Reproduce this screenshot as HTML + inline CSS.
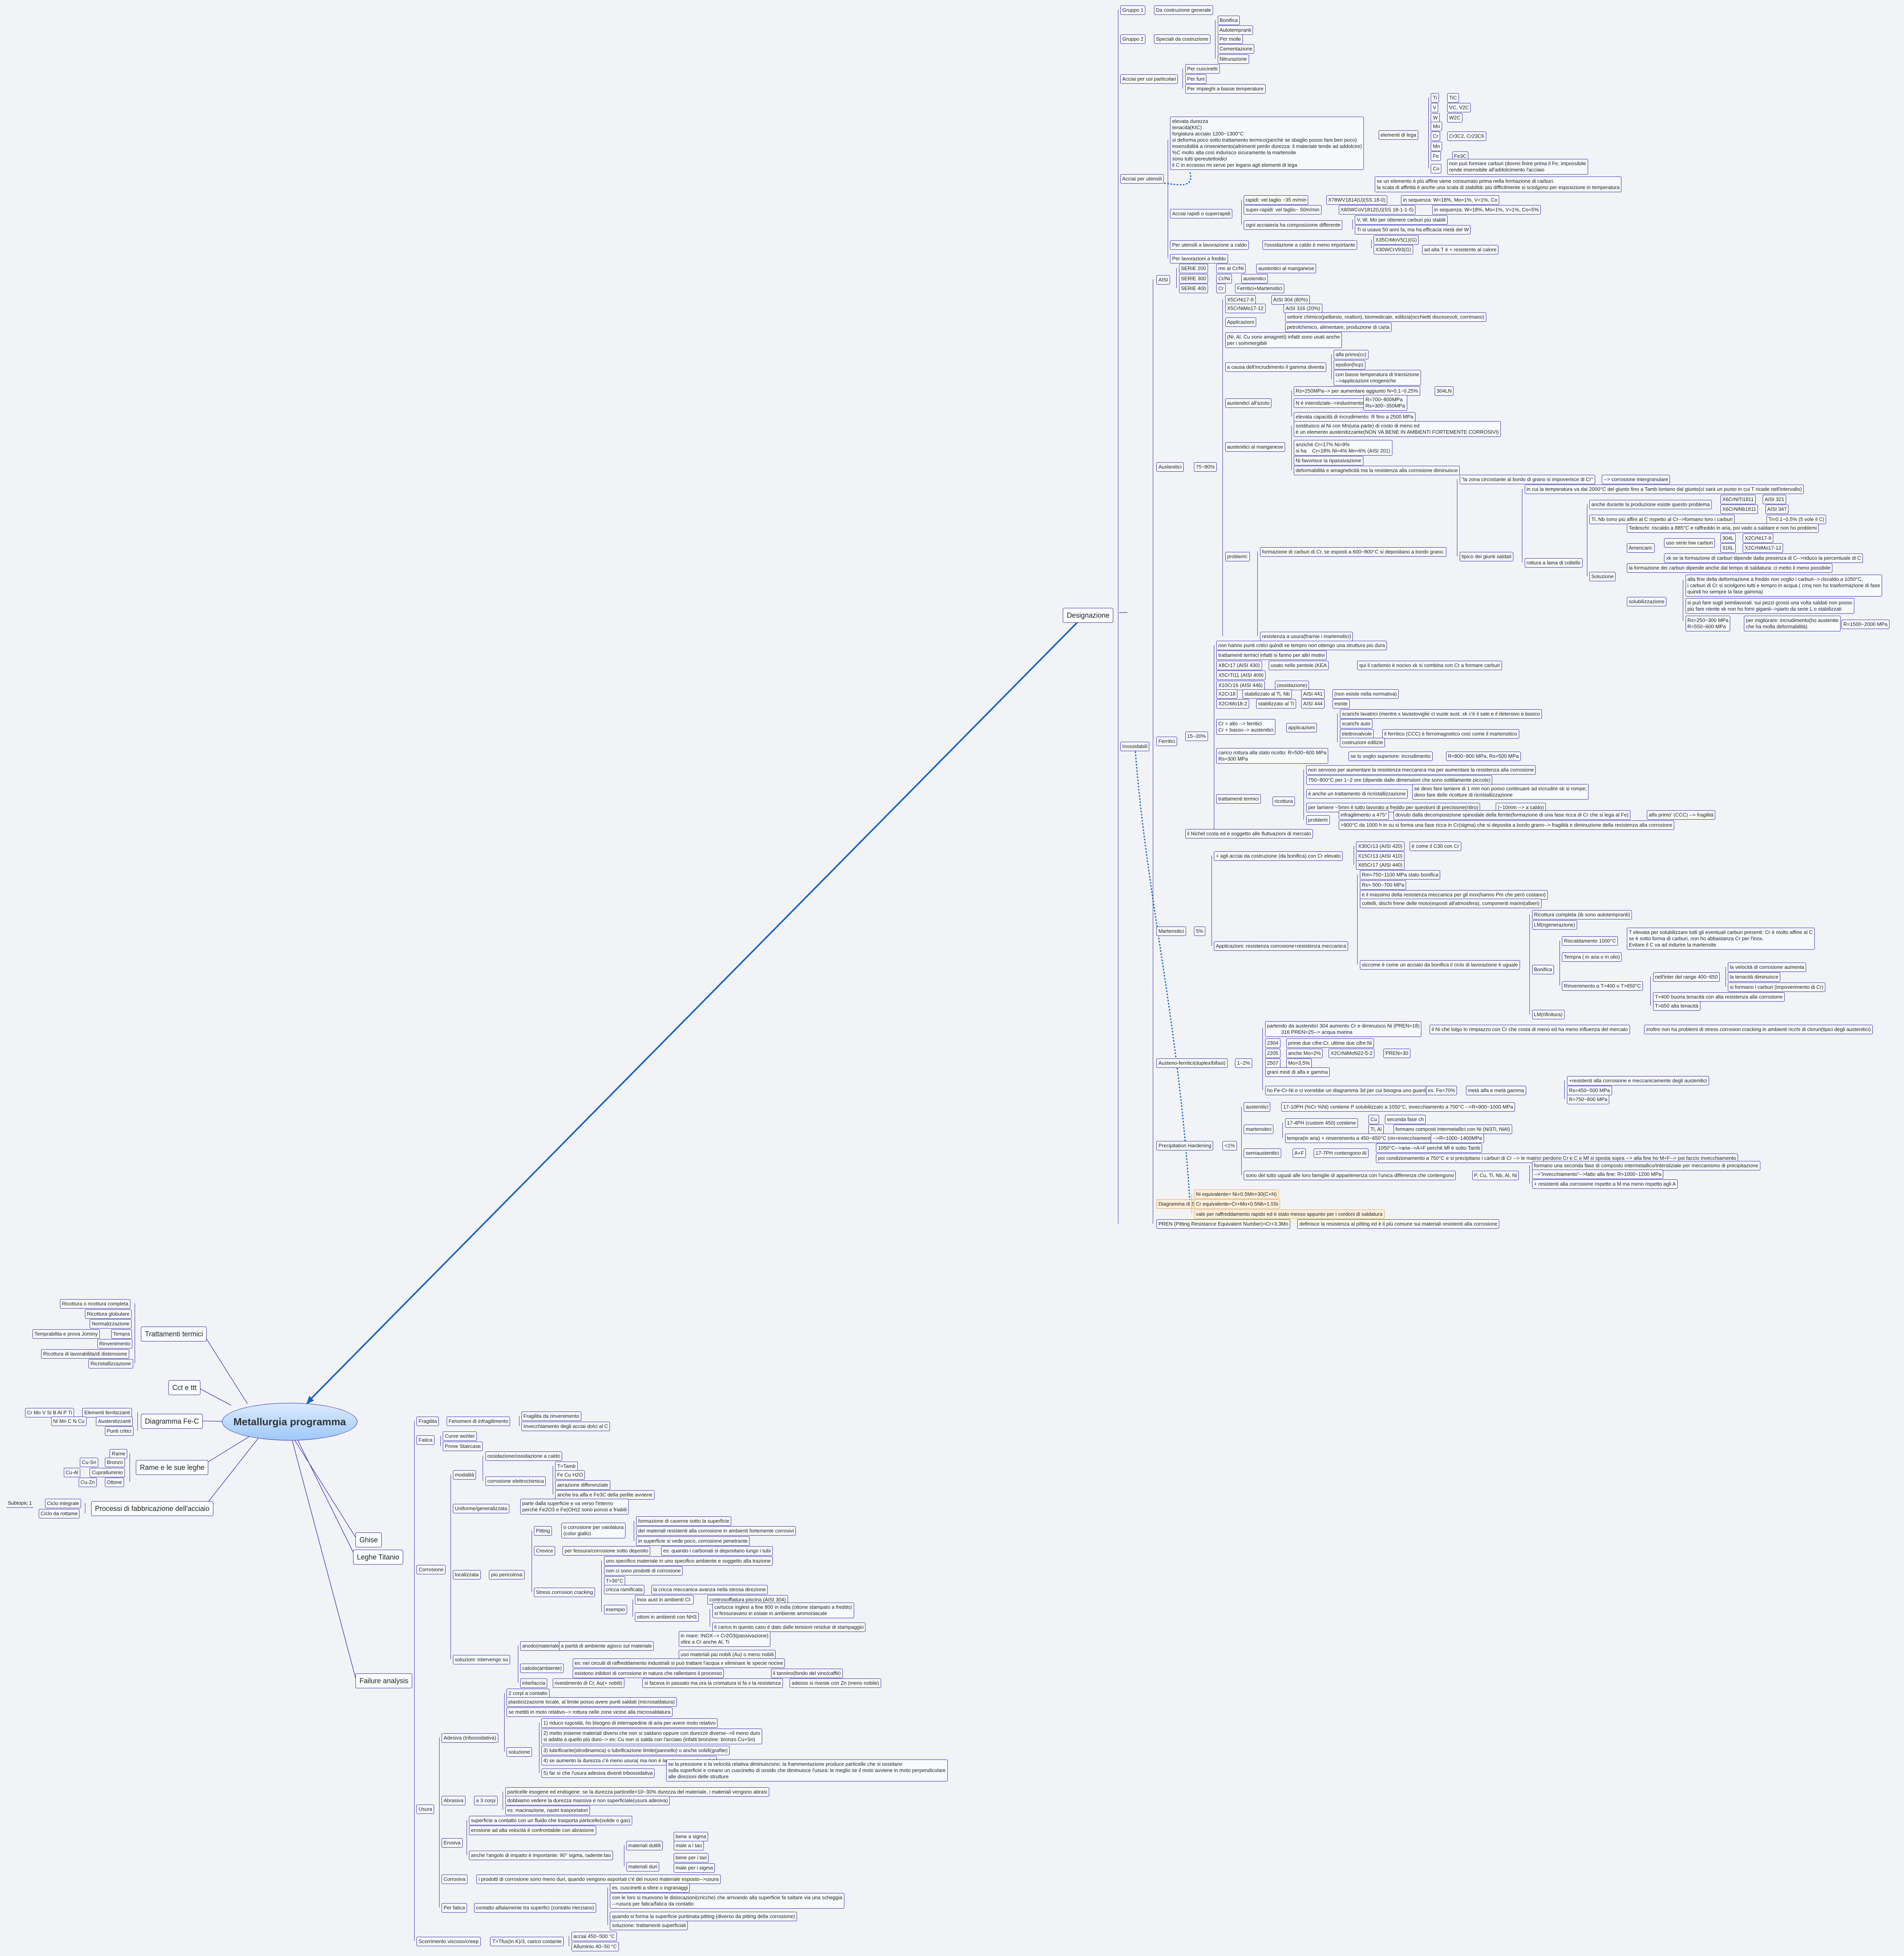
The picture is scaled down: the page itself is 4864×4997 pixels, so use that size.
<!DOCTYPE html>
<html><head><meta charset="utf-8">
<style>
html,body{margin:0;padding:0}
body{width:4864px;height:4997px;background:#f1f3f7;position:relative;overflow:hidden;font-family:"Liberation Sans",sans-serif;color:#222}
i{font-style:normal}
.n{position:absolute;left:calc(var(--x)*3.187px);top:calc(var(--y)*3.187px - 11px);font-size:13px;line-height:16px;padding:3px 4px;border:1.3px solid #2424b0;border-radius:3px;background:#f8f9fc;white-space:nowrap}
.m{position:absolute;left:calc(var(--x)*3.187px);top:calc(var(--y)*3.187px - 18px);font-size:18px;line-height:22px;padding:7px 9px;border:1.3px solid #2424b0;border-radius:4px;background:#fbfcfe;white-space:nowrap}
.s{background:#fdf0dc;border-color:#d9a050}
.v{position:absolute;width:0;border-left:1.3px solid #2424b0;left:calc(var(--x)*3.187px);top:calc(var(--a)*3.187px);height:calc((var(--b) - var(--a))*3.187px)}
.c{position:absolute;left:567px;top:3584px;width:344px;height:94px;border:1.5px solid #2424b0;border-radius:50%;background:linear-gradient(#dcebfd,#9ec8fa);display:flex;align-items:center;justify-content:center;font-weight:bold;font-size:26px;color:#333}
svg{position:absolute;left:0;top:0}
</style></head><body>
<svg width="4864" height="4997">
<line x1="2757" y1="1585" x2="788" y2="3580" stroke="#1565c0" stroke-width="4"/>
<polygon points="782,3588 790,3566 802,3578" fill="#1565c0"/>
<path d="M3040,3075 C3010,2600 2930,2300 2900,1915" stroke="#1565c0" stroke-width="3" fill="none" stroke-dasharray="4,4"/>
<path d="M3040,440 C3050,480 3020,475 2955,465" stroke="#1565c0" stroke-width="3" fill="none" stroke-dasharray="4,4"/>
<g stroke="#2424b0" stroke-width="1.3" fill="none">
<line x1="519" y1="3407" x2="632" y2="3586"/>
<line x1="504" y1="3544" x2="590" y2="3590"/>
<line x1="500" y1="3630" x2="567" y2="3631"/>
<line x1="510" y1="3748" x2="640" y2="3668"/>
<line x1="519" y1="3853" x2="660" y2="3674"/>
<line x1="752" y1="3678" x2="912" y2="3933"/>
<line x1="760" y1="3678" x2="908" y2="3977"/>
<line x1="746" y1="3678" x2="910" y2="4293"/>
<line x1="2880" y1="1565" x2="2859" y2="1565"/>
</g>
</svg>
<div class="c">Metallurgia programma</div>

<!-- left -->
<i class="m" style="--x:113;--y:1069">Trattamenti termici</i>
<div class="v" style="--x:108;--a:1045;--b:1093"></div>
<i class="n" style="--x:48;--y:1045">Ricottura o ricottura completa</i>
<i class="n" style="--x:68;--y:1053">Ricottura globulare</i>
<i class="n" style="--x:72;--y:1061">Normalizzazione</i>
<i class="n" style="--x:89;--y:1069">Tempra</i>
<i class="n" style="--x:26;--y:1069">Temprabilita e prova Jominy</i>
<i class="n" style="--x:78;--y:1077">Rinvenimento</i>
<i class="n" style="--x:33;--y:1085">Ricottura di lavorabilita/di distensione</i>
<i class="n" style="--x:71;--y:1093">Ricristallizzazione</i>
<i class="m" style="--x:135;--y:1112">Cct e ttt</i>
<i class="m" style="--x:113;--y:1139">Diagramma Fe-C</i>
<div class="v" style="--x:110;--a:1132;--b:1147"></div>
<i class="n" style="--x:66;--y:1132">Elementi ferritizzanti</i>
<i class="n" style="--x:20;--y:1132">Cr Mo V Si B Al P Ti</i>
<i class="n" style="--x:77;--y:1139">Austenitizzanti</i>
<i class="n" style="--x:41;--y:1139">Ni Mn C N Cu</i>
<i class="n" style="--x:84;--y:1147">Punti critici</i>
<i class="m" style="--x:109;--y:1176">Rame e le sue leghe</i>
<div class="v" style="--x:104;--a:1165;--b:1188"></div>
<i class="n" style="--x:88;--y:1165">Rame</i>
<i class="n" style="--x:84;--y:1172">Bronzo</i>
<i class="n" style="--x:64;--y:1172">Cu-Sn</i>
<i class="n" style="--x:72;--y:1180">Cupralluminio</i>
<i class="n" style="--x:51;--y:1180">Cu-Al</i>
<i class="n" style="--x:84;--y:1188">Ottone</i>
<i class="n" style="--x:63;--y:1188">Cu-Zn</i>
<i class="m" style="--x:73;--y:1209">Processi di fabbricazione dell'acciaio</i>
<div class="v" style="--x:68;--a:1205;--b:1213"></div>
<i class="n" style="--x:36;--y:1205">Ciclo integrale</i>
<i class="n" style="--x:5;--y:1205;border:none;border-bottom:1.3px solid #2424b0;border-radius:0;background:none">Subtopic 1</i>
<i class="n" style="--x:31;--y:1213">Ciclo da rottame</i>

<i class="m" style="--x:285;--y:1234">Ghise</i>
<i class="m" style="--x:283;--y:1248">Leghe Titanio</i>
<i class="m" style="--x:285;--y:1347">Failure analysis</i>

<!-- Failure analysis -->
<div class="v" style="--x:332;--a:1139;--b:1556"></div>
<i class="n" style="--x:334;--y:1139">Fragilita</i>
<i class="n" style="--x:358;--y:1139">Fenomeni di infragilimento</i>
<div class="v" style="--x:416;--a:1135;--b:1143"></div>
<i class="n" style="--x:418;--y:1135">Fragilita da rinvenimento</i>
<i class="n" style="--x:418;--y:1143">Invecchiamento degli acciai dolci al C</i>
<i class="n" style="--x:334;--y:1154">Fatica</i>
<div class="v" style="--x:353;--a:1151;--b:1159"></div>
<i class="n" style="--x:355;--y:1151">Curve wohler</i>
<i class="n" style="--x:355;--y:1159">Prove Staircase</i>
<i class="n" style="--x:334;--y:1258">Corrosione</i>
<div class="v" style="--x:361;--a:1182;--b:1330"></div>
<i class="n" style="--x:363;--y:1182">modalità</i>
<div class="v" style="--x:387;--a:1167;--b:1187"></div>
<i class="n" style="--x:389;--y:1167">ossidazione/ossidazione a caldo</i>
<i class="n" style="--x:389;--y:1187">corrosione elettrochimica</i>
<div class="v" style="--x:443;--a:1175;--b:1198"></div>
<i class="n" style="--x:445;--y:1175">T&gt;Tamb</i>
<i class="n" style="--x:445;--y:1182">Fe Cu H2O</i>
<i class="n" style="--x:445;--y:1190">aerazione differenziale</i>
<i class="n" style="--x:445;--y:1198">anche tra alfa e Fe3C della perlite avviene</i>
<i class="n" style="--x:363;--y:1209">Uniforme/generalizzata</i>
<i class="n" style="--x:417;--y:1205">parte dalla superficie e va verso l'interno<br>perchè Fe2O3 e Fe(OH)2 sono porosi e friabili</i>
<i class="n" style="--x:363;--y:1262">localizzata</i>
<i class="n" style="--x:392;--y:1262">più pericolosa</i>
<div class="v" style="--x:426;--a:1227;--b:1276"></div>
<i class="n" style="--x:428;--y:1227">Pitting</i>
<i class="n" style="--x:450;--y:1224">o corrosione per vaiolatura<br>(color giallo)</i>
<div class="v" style="--x:508;--a:1219;--b:1235"></div>
<i class="n" style="--x:510;--y:1219">formazione di caverne sotto la superficie</i>
<i class="n" style="--x:510;--y:1227">dei materiali resistenti alla corrosione in ambienti fortemente corrosivi</i>
<i class="n" style="--x:510;--y:1235">in superficie si vede poco, corrosione penetrante</i>
<i class="n" style="--x:428;--y:1243">Crevice</i>
<i class="n" style="--x:451;--y:1243">per fessura/corrosione sotto deposito</i>
<i class="n" style="--x:530;--y:1243">es: quando i carbonati si depositano lungo i tubi</i>
<i class="n" style="--x:428;--y:1276">Stress corrosion cracking</i>
<div class="v" style="--x:482;--a:1251;--b:1292"></div>
<i class="n" style="--x:484;--y:1251">uno specifico materiale in uno specifico ambiente e soggetto alla trazione</i>
<i class="n" style="--x:484;--y:1259">non ci sono prodotti di corrosione</i>
<i class="n" style="--x:484;--y:1267">T&gt;30°C</i>
<i class="n" style="--x:484;--y:1274">cricca ramificata</i>
<i class="n" style="--x:522;--y:1274">la cricca meccanica avanza nella stessa direzione</i>
<i class="n" style="--x:484;--y:1290">esempio</i>
<div class="v" style="--x:507;--a:1282;--b:1296"></div>
<i class="n" style="--x:509;--y:1282">Inox aust in ambienti Cl-</i>
<i class="n" style="--x:567;--y:1282">controsoffiatura piscina (AISI 304)</i>
<i class="n" style="--x:509;--y:1296">ottoni in ambienti con NH3</i>
<div class="v" style="--x:569;--a:1290;--b:1304"></div>
<i class="n" style="--x:571;--y:1288">cartucce inglesi a fine 800 in india (ottone stampato a freddo)<br>si fessuravano in estate in ambiente ammoniacale</i>
<i class="n" style="--x:571;--y:1304">il carico in questo caso è dato dalle tensioni residue di stampaggio</i>
<i class="n" style="--x:363;--y:1330">soluzioni: intervengo su</i>
<div class="v" style="--x:415;--a:1319;--b:1349"></div>
<i class="n" style="--x:417;--y:1319">anodo(materiale)</i>
<i class="n" style="--x:448;--y:1319">a parità di ambiente agisco sul materiale</i>
<i class="n" style="--x:544;--y:1311">in mare: INOX--&gt; Cr2O3(passivazione)<br>oltre a Cr anche Al, Ti</i>
<i class="n" style="--x:544;--y:1326">uso materiali piu nobili (Au) o meno nobili</i>
<i class="n" style="--x:417;--y:1337">catodo(ambiente)</i>
<i class="n" style="--x:459;--y:1333">es: nei circuiti di raffreddamento industriali si può trattare l'acqua x eliminare le specie nocive</i>
<i class="n" style="--x:459;--y:1341">esistono inibitori di corrosione in natura che rallentano il processo</i>
<i class="n" style="--x:618;--y:1341">il tannino(fondo del vino/caffè)</i>
<i class="n" style="--x:417;--y:1349">interfaccia</i>
<i class="n" style="--x:443;--y:1349">rivestimento di Cr, Au(+ nobili)</i>
<i class="n" style="--x:515;--y:1349">si faceva in passato ma ora la cromatura si fa x la resistenza</i>
<i class="n" style="--x:633;--y:1349">adesso si riveste con Zn (meno nobile)</i>
<i class="n" style="--x:334;--y:1450">Usura</i>
<div class="v" style="--x:352;--a:1393;--b:1529"></div>
<i class="n" style="--x:354;--y:1393">Adesiva (tribossidativa)</i>
<div class="v" style="--x:404;--a:1357;--b:1404"></div>
<i class="n" style="--x:406;--y:1357">2 corpi a contatto</i>
<i class="n" style="--x:406;--y:1364">plasticizzazione locale, al limite posso avere punti saldati (microsaldatura)</i>
<i class="n" style="--x:406;--y:1372">se mettiti in moto relativo--&gt; rottura nelle zone vicine alla microsaldatura</i>
<i class="n" style="--x:406;--y:1404">soluzione</i>
<div class="v" style="--x:432;--a:1381;--b:1421"></div>
<i class="n" style="--x:434;--y:1381">1) riduco rugosità, ho bisogno di interrapedine di aria per avere moto relativo</i>
<i class="n" style="--x:434;--y:1389">2) metto insieme materiali diversi che non si saldano oppure con durezze diverse--&gt;il meno duro<br>si adatta a quello più duro--&gt; es: Cu non si salda con l'acciaio (infatti bronzine: bronzo Cu+Sn)</i>
<i class="n" style="--x:434;--y:1403">3) lubrificante(idrodinamica) o lubrificazione limite(pannello) o anche solidi(grafite)</i>
<i class="n" style="--x:434;--y:1411">4) se aumento la durezza c'è meno usura( ma non è la prima cosa che si fa)</i>
<i class="n" style="--x:434;--y:1421">5) far sì che l'usura adesiva diventi tribossidativa</i>
<i class="n" style="--x:534;--y:1414">se la pressione e la velocità relativa diminuiscono: la frammentazione produce particelle che si ossidano<br>sulla superficie e creano un cuscinetto di ossido che diminuisce l'usura: le meglio se il moto avviene in moto perpendicolare<br>alle direzioni delle strutture</i>
<i class="n" style="--x:354;--y:1443">Abrasiva</i>
<i class="n" style="--x:380;--y:1443">a 3 corpi</i>
<div class="v" style="--x:403;--a:1436;--b:1451"></div>
<i class="n" style="--x:405;--y:1436">particelle esogene ed endogene: se la durezza particelle&gt;10~30% durezza del materiale, i materiali vengono abrasi</i>
<i class="n" style="--x:405;--y:1443">dobbiamo vedere la durezza massiva e non superficiale(usura adesiva)</i>
<i class="n" style="--x:405;--y:1451">es: macinazione, nastri trasportatori</i>
<i class="n" style="--x:354;--y:1477">Erosiva</i>
<div class="v" style="--x:374;--a:1459;--b:1487"></div>
<i class="n" style="--x:376;--y:1459">superficie a contatto con un fluido che trasporta particelle(solide o gas)</i>
<i class="n" style="--x:376;--y:1467">erosione ad alta velocità è confrontabile con abrasione</i>
<i class="n" style="--x:376;--y:1487">anche l'angolo di impatto è importante: 90° sigma, radente:tao</i>
<div class="v" style="--x:500;--a:1479;--b:1496"></div>
<i class="n" style="--x:502;--y:1479">materiali duttili</i>
<i class="n" style="--x:540;--y:1472">bene a sigma</i>
<i class="n" style="--x:540;--y:1479">male a i tao</i>
<i class="n" style="--x:502;--y:1496">materiali duri</i>
<i class="n" style="--x:540;--y:1489">bene per i tao</i>
<i class="n" style="--x:540;--y:1497">male per i sigma</i>
<i class="n" style="--x:354;--y:1506">Corrosiva</i>
<i class="n" style="--x:382;--y:1506">i prodotti di corrosione sono meno duri, quando vengono asportati c'è del nuovo materiale esposto--&gt;usura</i>
<i class="n" style="--x:354;--y:1529">Per fatica</i>
<i class="n" style="--x:380;--y:1529">contatto alfalamente tra superfici (contatto Herziano)</i>
<div class="v" style="--x:487;--a:1513;--b:1543"></div>
<i class="n" style="--x:489;--y:1513">es. cuscinetti a sfere o ingranaggi</i>
<i class="n" style="--x:489;--y:1521">con le loro si muovono le dislocazioni(cricche) che arrivando alla superficie fa saltare via una scheggia<br>--&gt;usura per fatica/fatica da contatto</i>
<i class="n" style="--x:489;--y:1536">quando si forma la superficie puntinata:pitting (diverso da pitting della corrosione)</i>
<i class="n" style="--x:489;--y:1543">soluzione: trattamenti superficiali</i>
<i class="n" style="--x:334;--y:1556">Scorrimento viscoso/creep</i>
<i class="n" style="--x:393;--y:1556">T&gt;Tfus(in K)/3, carico costante</i>
<div class="v" style="--x:456;--a:1552;--b:1560"></div>
<i class="n" style="--x:458;--y:1552">acciai 450~500 °C</i>
<i class="n" style="--x:458;--y:1560">Alluminio 40~50 °C</i>

<!-- Designazione -->
<i class="m" style="--x:852;--y:493">Designazione</i>
<div class="v" style="--x:896;--a:8;--b:981"></div>
<i class="n" style="--x:898;--y:8">Gruppo 1</i>
<i class="n" style="--x:925;--y:8">Da costruzione generale</i>
<i class="n" style="--x:898;--y:31">Gruppo 2</i>
<i class="n" style="--x:925;--y:31">Speciali da costruzione</i>
<div class="v" style="--x:974;--a:16;--b:47"></div>
<i class="n" style="--x:976;--y:16">Bonifica</i>
<i class="n" style="--x:976;--y:24">Autotempranti</i>
<i class="n" style="--x:976;--y:31">Per molle</i>
<i class="n" style="--x:976;--y:39">Cementazione</i>
<i class="n" style="--x:976;--y:47">Nitrurazione</i>
<i class="n" style="--x:898;--y:63">Acciai per usi particolari</i>
<div class="v" style="--x:948;--a:55;--b:71"></div>
<i class="n" style="--x:950;--y:55">Per cuscinetti</i>
<i class="n" style="--x:950;--y:63">Per funi</i>
<i class="n" style="--x:950;--y:71">Per impieghi a basse temperature</i>
<i class="n" style="--x:898;--y:143">Acciai per utensili</i>
<div class="v" style="--x:936;--a:112;--b:207"></div>
<i class="n" style="--x:938;--y:97">elevata durezza<br>tenacità(KIC)<br>forgiatura acciaio 1200~1300°C<br>si deforma poco sotto trattamento termico(perchè se sbaglio posso fare ben poco)<br>insensibilità a rinvenimento(altrimenti perdo durezza: il materiale tende ad addolcire)<br>%C molto alta così indurisco sicuramente la martensite<br>sono tutti ipereutettoidici<br>il C in eccesso mi serve per legarsi agli elementi di lega</i>
<i class="n" style="--x:1105;--y:108">elementi di lega</i>
<div class="v" style="--x:1145;--a:78;--b:135"></div>
<i class="n" style="--x:1147;--y:78">Ti</i><i class="n" style="--x:1160;--y:78">TiC</i>
<i class="n" style="--x:1147;--y:86">V</i><i class="n" style="--x:1160;--y:86">VC, V2C</i>
<i class="n" style="--x:1147;--y:94">W</i><i class="n" style="--x:1160;--y:94">W2C</i>
<i class="n" style="--x:1147;--y:101">Mo</i>
<i class="n" style="--x:1147;--y:109">Cr</i><i class="n" style="--x:1160;--y:109">Cr3C2, Cr23C6</i>
<i class="n" style="--x:1147;--y:117">Mn</i>
<i class="n" style="--x:1147;--y:125">Fe</i><i class="n" style="--x:1164;--y:125">Fe3C</i>
<i class="n" style="--x:1147;--y:135">Co</i>
<i class="n" style="--x:1160;--y:131">non può formare carburi (dovrei finire prima il Fe. impossibile<br>rende insensibile all'addolcimento l'acciaio</i>
<i class="n" style="--x:1102;--y:145">se un elemento è più affine viene consumato prima nella formazione di carburi.<br>la scala di affinità è anche una scala di stabilità: più difficilmente si sciolgono per esposizione in temperatura</i>
<i class="n" style="--x:938;--y:171">Acciai rapidi o superrapidi</i>
<div class="v" style="--x:995;--a:160;--b:180"></div>
<i class="n" style="--x:997;--y:160">rapidi: vel taglio ~35 m/min</i>
<i class="n" style="--x:1063;--y:160">X78WV1814(U)(SS 18-0)</i>
<i class="n" style="--x:1123;--y:160">in sequenza: W=18%, Mo=1%, V=1%, Co</i>
<i class="n" style="--x:997;--y:168">super-rapidi: vel taglio~ 50m/min</i>
<i class="n" style="--x:1073;--y:168">X80WCoV1812(U)(SS 18-1-1-5)</i>
<i class="n" style="--x:1148;--y:168">in sequenza: W=18%, Mo=1%, V=1%, Co=5%</i>
<i class="n" style="--x:997;--y:180">ogni acciaieria ha composizione differente</i>
<div class="v" style="--x:1084;--a:176;--b:184"></div>
<i class="n" style="--x:1086;--y:176">V, W, Mo per ottenere carburi più stabili</i>
<i class="n" style="--x:1086;--y:184">Ti si usava 50 anni fa, ma ha efficacia metà del W</i>
<i class="n" style="--x:938;--y:196">Per utensili a lavorazione a caldo</i>
<i class="n" style="--x:1012;--y:196">l'ossidazione a caldo è meno importante</i>
<div class="v" style="--x:1099;--a:192;--b:199"></div>
<i class="n" style="--x:1101;--y:192">X35CrMoV5(1)(G)</i>
<i class="n" style="--x:1101;--y:200">X30WCrV93(G)</i>
<i class="n" style="--x:1140;--y:200">ad alta T è + resistente al calore</i>
<i class="n" style="--x:938;--y:207">Per lavorazioni a freddo</i>

<i class="n" style="--x:898;--y:598">Inossidabili</i>
<div class="v" style="--x:924;--a:224;--b:981"></div>
<i class="n" style="--x:927;--y:224">AISI</i>
<div class="v" style="--x:943;--a:215;--b:231"></div>
<i class="n" style="--x:945;--y:215">SERIE 200</i><i class="n" style="--x:975;--y:215">mn al Cr/Ni</i><i class="n" style="--x:1007;--y:215">austenitici al manganese</i>
<i class="n" style="--x:945;--y:223">SERIE 300</i><i class="n" style="--x:975;--y:223">Cr/Ni</i><i class="n" style="--x:995;--y:223">austenitici</i>
<i class="n" style="--x:945;--y:231">SERIE 400</i><i class="n" style="--x:975;--y:231">Cr</i><i class="n" style="--x:990;--y:231">Ferritici+Martensitici</i>

<i class="n" style="--x:927;--y:374">Austenitici</i>
<i class="n" style="--x:957;--y:374">75~80%</i>
<div class="v" style="--x:980;--a:240;--b:510"></div>
<i class="n" style="--x:982;--y:240">X5CrNi17-9</i><i class="n" style="--x:1019;--y:240">AISI 304 (80%)</i>
<i class="n" style="--x:982;--y:247">X5CrNiMo17-12</i><i class="n" style="--x:1029;--y:247">AISI 316 (20%)</i>
<i class="n" style="--x:982;--y:258">Applicazioni</i>
<i class="n" style="--x:1030;--y:254">settore chimico(pelbesio, reattori), biomedicale, edilizia(occhietti disossevoli, corrimano)</i>
<i class="n" style="--x:1030;--y:262">petrolchimico, alimentare, produzione di carta</i>
<i class="n" style="--x:982;--y:270">(Ni, Al, Cu sono amagneti) infatti sono usati anche<br>per i sommergibili</i>
<i class="n" style="--x:982;--y:294">a causa dell'incrudimento il gamma diventa</i>
<div class="v" style="--x:1067;--a:284;--b:304"></div>
<i class="n" style="--x:1069;--y:284">alfa primo(cc)</i>
<i class="n" style="--x:1069;--y:292">epsilon(hcp)</i>
<i class="n" style="--x:1069;--y:300">con basse temperatura di transizione<br>--&gt;applicazioni criogeniche</i>
<i class="n" style="--x:982;--y:323">austenitici all'azoto</i>
<div class="v" style="--x:1035;--a:313;--b:334"></div>
<i class="n" style="--x:1037;--y:313">Rs=250MPa--&gt; per aumentare aggiunto N=0.1~0.25%</i><i class="n" style="--x:1150;--y:313">304LN</i>
<i class="n" style="--x:1037;--y:323">N è interstiziale--&gt;indurimento</i>
<i class="n" style="--x:1093;--y:320">R=700~800MPa<br>Rs=300~350MPa</i>
<i class="n" style="--x:1037;--y:334">elevata capacità di incrudimento: R fino a 2500 MPa</i>
<i class="n" style="--x:982;--y:358">austenitici al manganese</i>
<div class="v" style="--x:1035;--a:341;--b:377"></div>
<i class="n" style="--x:1037;--y:341">sostituisco al Ni con Mn(una parte) di costo di meno ed<br>è un elemento austenitizzante(NON VA BENE IN AMBIENTI FORTEMENTE CORROSIVI)</i>
<i class="n" style="--x:1037;--y:356">anziché Cr=17% Ni=9%<br>si ha &nbsp;&nbsp;&nbsp;Cr=18% Ni=4% Mn=6% (AISI 201)</i>
<i class="n" style="--x:1037;--y:369">Ni favorisce la ripassivazione</i>
<i class="n" style="--x:1037;--y:377">deformabilità e amagneticità ma la resistenza alla corrosione diminuisce</i>
<i class="n" style="--x:982;--y:446">problemi:</i>
<div class="v" style="--x:1008;--a:442;--b:510"></div>
<i class="n" style="--x:1010;--y:442">formazione di carburi di Cr, se esposti a 600~800°C si depositano a bordo grano.</i>
<div class="v" style="--x:1168;--a:384;--b:446"></div>
<i class="n" style="--x:1170;--y:384">"la zona circostante al bordo di grano si impoverisce di Cr"</i>
<i class="n" style="--x:1284;--y:384">--&gt; corrosione intergranulare</i>
<i class="n" style="--x:1170;--y:446">tipico dei giunti saldati</i>
<div class="v" style="--x:1220;--a:392;--b:451"></div>
<i class="n" style="--x:1222;--y:392">in cui la temperatura va dai 2000°C del giunto fino a Tamb lontano dal giunto(ci sarà un punto in cui T ricade nell'intervallo)</i>
<i class="n" style="--x:1222;--y:451">rottura a lama di coltello</i>
<div class="v" style="--x:1272;--a:404;--b:462"></div>
<i class="n" style="--x:1274;--y:404">anche durante la produzione esiste questo problema</i>
<i class="n" style="--x:1379;--y:400">X6CrNiTi1811</i><i class="n" style="--x:1413;--y:400">AISI 321</i>
<i class="n" style="--x:1379;--y:408">X6CrNiNb1811</i><i class="n" style="--x:1415;--y:408">AISI 347</i>
<i class="n" style="--x:1274;--y:416">Ti, Nb sono più affini al C rispetto al Cr--&gt;formano loro i carburi</i>
<i class="n" style="--x:1416;--y:416">Ti=0.1~0.5% (5 vole il C)</i>
<i class="n" style="--x:1304;--y:423">Tedeschi: riscaldo a 885°C e raffreddo in aria, poi vado a saldare e non ho problemi</i>
<i class="n" style="--x:1304;--y:439">Americani:</i>
<i class="n" style="--x:1334;--y:435">uso serie low carbon</i>
<i class="n" style="--x:1379;--y:431">304L</i><i class="n" style="--x:1397;--y:431">X2CrNi17-9</i>
<i class="n" style="--x:1379;--y:439">316L</i><i class="n" style="--x:1397;--y:439">X2CrNiMo17-12</i>
<i class="n" style="--x:1334;--y:447">xk se la formazione di carburi dipende dalla presenza di C--&gt;riduco la percentuale di C</i>
<i class="n" style="--x:1274;--y:462">Soluzione</i>
<i class="n" style="--x:1304;--y:455">la formazione dei carburi dipende anche dal tempo di saldatura: ci metto il meno possibile</i>
<i class="n" style="--x:1304;--y:482">solubilizzazione</i>
<div class="v" style="--x:1349;--a:465;--b:498"></div>
<i class="n" style="--x:1351;--y:464">alla fine della deformazione a freddo non voglio i carburi--&gt; riscaldo a 1050°C,<br>i carburi di Cr si sciolgono tutti e tempro in acqua ( cmq non ho trasformazione di fase<br>quindi ho sempre la fase gamma)</i>
<i class="n" style="--x:1351;--y:483">si può fare sugli semilavorati. sui pezzi grossi una volta saldati non posso<br>più fare niente xk non ho forni giganti--&gt;parto da serie L o stabilizzati</i>
<i class="n" style="--x:1351;--y:497">Rs=250~300 MPa<br>R=550~600 MPa</i>
<i class="n" style="--x:1398;--y:497">per migliorare: incrudimento(ho austenite<br>che ha molta deformabilità)</i>
<i class="n" style="--x:1476;--y:500">R=1500~2000 MPa</i>
<i class="n" style="--x:1010;--y:510">resistenza a usura(frarnie i martensitici)</i>

<i class="n" style="--x:927;--y:594">Ferritici</i>
<i class="n" style="--x:950;--y:590">15~20%</i>
<div class="v" style="--x:973;--a:517;--b:668"></div>
<i class="n" style="--x:975;--y:517">non hanno punti critici quindi se tempro non ottengo una struttura più dura</i>
<i class="n" style="--x:975;--y:525">trattamenti termici infatti si fanno per altri motivi</i>
<i class="n" style="--x:975;--y:533">X8Cr17 (AISI 430)</i><i class="n" style="--x:1017;--y:533">usato nelle pentole (KEA</i><i class="n" style="--x:1088;--y:533">qui il carbonio è nocivo xk si combina con Cr a formare carburi</i>
<i class="n" style="--x:975;--y:541">X5CrTi11 (AISI 409)</i>
<i class="n" style="--x:975;--y:549">X10Cr16 (AISI 446)</i><i class="n" style="--x:1022;--y:549">(ossidazione)</i>
<i class="n" style="--x:975;--y:556">X2Cr18</i><i class="n" style="--x:996;--y:556">stabilizzato al Ti, Nb</i><i class="n" style="--x:1043;--y:556">AISI 441</i><i class="n" style="--x:1068;--y:556">(non esiste nella normativa)</i>
<i class="n" style="--x:975;--y:564">X2CrMo18-2</i><i class="n" style="--x:1007;--y:564">stabilizzato al Ti</i><i class="n" style="--x:1043;--y:564">AISI 444</i><i class="n" style="--x:1068;--y:564">esiste</i>
<i class="n" style="--x:975;--y:580">Cr = alto --&gt; ferritici<br>Cr + basso--&gt; austenitici</i>
<i class="n" style="--x:1031;--y:583">applicazioni</i>
<div class="v" style="--x:1072;--a:572;--b:595"></div>
<i class="n" style="--x:1074;--y:572">scarichi lavatrici (mentre x lavastoviglie ci vuole aust. xk c'è il sale e il detersivo è basico</i>
<i class="n" style="--x:1074;--y:580">scarichi auto</i>
<i class="n" style="--x:1074;--y:588">elettrovalvole</i><i class="n" style="--x:1108;--y:588">il ferritico (CCC) è ferromagnetico così come il martensitico</i>
<i class="n" style="--x:1074;--y:595">costruzioni edilizie</i>
<i class="n" style="--x:975;--y:603">carico rottura alla stato ricotto: R=500~600 MPa<br>Rs=300 MPa</i>
<i class="n" style="--x:1081;--y:606">se lo voglio superiore: incrudimento</i>
<i class="n" style="--x:1159;--y:606">R=800~900 MPa, Rs=500 MPa</i>
<i class="n" style="--x:975;--y:640">trattamenti termici</i>
<i class="n" style="--x:1020;--y:642">ricottura</i>
<div class="v" style="--x:1045;--a:617;--b:657"></div>
<i class="n" style="--x:1047;--y:617">non servono per aumentare la resistenza meccanica ma per aumentare la resistenza alla corrosione</i>
<i class="n" style="--x:1047;--y:625">750~800°C per 1~2 ore (dipende dalle dimensioni che sono sottilamente piccole)</i>
<i class="n" style="--x:1047;--y:636">è anche un trattamento di ricristallizzazione</i>
<i class="n" style="--x:1132;--y:632">se devo fare lamiere di 1 mm non posso continuare ad incrudire sk si rompe;<br>devo fare delle ricotture di ricristallizzazione</i>
<i class="n" style="--x:1047;--y:647">per lamiere ~5mm è tutto lavorato a freddo per questioni di precisione(ritiro)</i>
<i class="n" style="--x:1199;--y:647">(~10mm --&gt; a caldo)</i>
<i class="n" style="--x:1047;--y:657">problemi</i>
<i class="n" style="--x:1073;--y:653">infragilimento a 475°</i>
<i class="n" style="--x:1117;--y:653">dovuto dalla decomposizione spinodale della ferrite(formazione di una fase ricca di Cr che si lega al Fe)</i>
<i class="n" style="--x:1320;--y:653">alfa primo' (CCC) --&gt; fragilità</i>
<i class="n" style="--x:1073;--y:661">&gt;900°C da 1000 h in su si forma una fase ricca in Cr(sigma) che si deposita a bordo grano--&gt; fragilità e diminuzione della resistenza alla corrosione</i>
<i class="n" style="--x:950;--y:668">il Nichel costa ed è soggetto alle fluttuazioni di mercato</i>

<i class="n" style="--x:927;--y:746">Martensitici</i>
<i class="n" style="--x:957;--y:746">5%</i>
<div class="v" style="--x:971;--a:686;--b:758"></div>
<i class="n" style="--x:973;--y:686">+ agli acciai da costruzione (da bonifica) con Cr elevato</i>
<div class="v" style="--x:1085;--a:678;--b:693"></div>
<i class="n" style="--x:1087;--y:678">X30Cr13 (AISI 420)</i><i class="n" style="--x:1130;--y:678">è come il C30 con Cr</i>
<i class="n" style="--x:1087;--y:686">X15Cr13 (AISI 410)</i>
<i class="n" style="--x:1087;--y:693">X65Cr17 (AISI 440)</i>
<i class="n" style="--x:973;--y:758">Applicazioni: resistenza corrosione+resistenza meccanica</i>
<div class="v" style="--x:1088;--a:701;--b:773"></div>
<i class="n" style="--x:1090;--y:701">Rm=750~1100 MPa stato bonifica</i>
<i class="n" style="--x:1090;--y:709">Rs= 500~700 MPa</i>
<i class="n" style="--x:1090;--y:717">è il massimo della resistenza meccanica per gli inox(hanno Pm che però costano)</i>
<i class="n" style="--x:1090;--y:724">coltelli, dischi frene delle moto(esposti all'atmosfera), componenti marini(alberi)</i>
<i class="n" style="--x:1090;--y:773">siccome è come un acciaio da bonifica il ciclo di lavorazione è uguale</i>
<div class="v" style="--x:1226;--a:733;--b:813"></div>
<i class="n" style="--x:1228;--y:733">Ricottura completa (ib sono autotempranti)</i>
<i class="n" style="--x:1228;--y:741">LM(rigenerazione)</i>
<i class="n" style="--x:1228;--y:777">Bonifica</i>
<div class="v" style="--x:1250;--a:754;--b:790"></div>
<i class="n" style="--x:1252;--y:754">Riscaldamento 1000°C</i>
<i class="n" style="--x:1304;--y:747">T elevata per solubilizzare tutti gli eventuali carburi presenti: Cr è molto affine al C<br>se è sotto forma di carburi, non ho abbastanza Cr per l'inox.<br>Evitare il C va ad indurire la martensite</i>
<i class="n" style="--x:1252;--y:767">Tempra ( in aria o in olio)</i>
<i class="n" style="--x:1252;--y:790">Rinvenimento a T=400 o T&gt;650°C</i>
<div class="v" style="--x:1323;--a:783;--b:806"></div>
<i class="n" style="--x:1325;--y:783">nell'inter del range 400~650</i>
<div class="v" style="--x:1383;--a:775;--b:791"></div>
<i class="n" style="--x:1385;--y:775">la velocità di corrosione aumenta</i>
<i class="n" style="--x:1385;--y:783">la tenacità diminuisce</i>
<i class="n" style="--x:1385;--y:791">si formano i carburi (impoverimento di Cr)</i>
<i class="n" style="--x:1325;--y:799">T=400 buona tenacità con alta resistenza alla corrosione</i>
<i class="n" style="--x:1325;--y:806">T&gt;650 alta tenacità</i>
<i class="n" style="--x:1228;--y:813">LM(rifinitura)</i>

<i class="n" style="--x:927;--y:852">Austeno-ferritici(duplex/bifasi)</i>
<i class="n" style="--x:990;--y:852">1~2%</i>
<div class="v" style="--x:1012;--a:824;--b:874"></div>
<i class="n" style="--x:1014;--y:822">partendo da austenitici 304 aumento Cr e diminuisco Ni (PREN&gt;18)<br>&nbsp;&nbsp;&nbsp;&nbsp;&nbsp;&nbsp;&nbsp;&nbsp;&nbsp;&nbsp;316 PREN=25--&gt; acqua marina</i>
<i class="n" style="--x:1146;--y:825">il Ni che tolgo lo rimpiazzo con Cr che costa di meno ed ha meno influenza del mercato</i>
<i class="n" style="--x:1318;--y:825">inoltre non ha problemi di stress corrosion cracking in ambienti ricchi di cloruri(tipici degli austenitici)</i>
<i class="n" style="--x:1014;--y:836">2304</i><i class="n" style="--x:1031;--y:836">prime due cifre:Cr, ultime due cifre:Ni</i>
<i class="n" style="--x:1014;--y:844">2205</i><i class="n" style="--x:1031;--y:844">anche Mo=2%</i><i class="n" style="--x:1065;--y:844">X2CrNiMoN22-5-2</i><i class="n" style="--x:1109;--y:844">PREN=30</i>
<i class="n" style="--x:1014;--y:852">2507</i><i class="n" style="--x:1031;--y:852">Mo=3,5%</i>
<i class="n" style="--x:1014;--y:859">grani misti di alfa e gamma</i>
<i class="n" style="--x:1014;--y:874">ho Fe-Cr-Ni e ci vorrebbe un diagramma 3d per cui bisogna uno guarda il grafico</i>
<i class="n" style="--x:1143;--y:874">es. Fe=70%</i>
<i class="n" style="--x:1175;--y:874">metà alfa e metà gamma</i>
<div class="v" style="--x:1254;--a:866;--b:881"></div>
<i class="n" style="--x:1256;--y:866">+resistenti alla corrosione e meccanicamente degli austenitici</i>
<i class="n" style="--x:1256;--y:874">Rs=450~500 MPa</i>
<i class="n" style="--x:1256;--y:881">R=750~800 MPa</i>

<i class="n" style="--x:927;--y:918">Precipitation Hardening</i>
<i class="n" style="--x:980;--y:918">&lt;1%</i>
<div class="v" style="--x:995;--a:887;--b:942"></div>
<i class="n" style="--x:997;--y:887">austenitici</i>
<i class="n" style="--x:1027;--y:887">17-10PH (%Cr %Ni) contiene P solubilizzato a 1050°C, invecchiamento a 700°C --&gt;R=900~1000 MPa</i>
<i class="n" style="--x:997;--y:905">martensitici</i>
<div class="v" style="--x:1028;--a:900;--b:912"></div>
<i class="n" style="--x:1030;--y:900">17-4PH (custom 450) contiene</i>
<i class="n" style="--x:1097;--y:897">Cu</i><i class="n" style="--x:1110;--y:897">seconda fase ch</i>
<i class="n" style="--x:1097;--y:905">Ti, Al</i><i class="n" style="--x:1117;--y:905">formano composti intermetallici con Ni (Ni3Ti, NiAl)</i>
<i class="n" style="--x:1030;--y:912">tempra(in aria) + rinvenimento a 450~650°C (rin=invecchiamento qui)</i>
<i class="n" style="--x:1147;--y:912">--&gt;R=1000~1400MPa</i>
<i class="n" style="--x:997;--y:924">semiaustenitici</i>
<i class="n" style="--x:1036;--y:924">A+F</i>
<i class="n" style="--x:1053;--y:924">17-7PH contengono Al</i>
<i class="n" style="--x:1103;--y:920">1050°C--&gt;aria--&gt;A+F perché Mf è sotto Tamb</i>
<i class="n" style="--x:1103;--y:928">poi condizionamento a 750°C e si precipitano i carburi di Cr --&gt; le matrici perdono Cr e C e Mf si sposta sopra --&gt; alla fine ho M+F--&gt; poi faccio invecchiamento</i>
<i class="n" style="--x:997;--y:942">sono del tutto uguali alle loro famiglie di appartenenza con l'unica differenza che contengono</i>
<i class="n" style="--x:1180;--y:942">P, Cu, Ti, Nb, Al, Ni</i>
<div class="v" style="--x:1226;--a:934;--b:949"></div>
<i class="n" style="--x:1228;--y:934">formano una seconda fase di composto intermetallico/interstiziale per meccanismo di precipitazione</i>
<i class="n" style="--x:1228;--y:941">--&gt;"invecchiamento"--&gt;fatto alla fine: R=1000~1200 MPa</i>
<i class="n" style="--x:1228;--y:949">+ resistenti alla corrosione rispetto a M ma meno rispetto agli A</i>

<i class="n s" style="--x:927;--y:965">Diagramma di Schaeffler</i>
<div class="v" style="--x:955;--a:957;--b:973;border-color:#d9a050"></div>
<i class="n s" style="--x:957;--y:957">Ni equivalente= Ni+0.5Mn+30(C+N)</i>
<i class="n s" style="--x:957;--y:965">Cr equivalente=Cr+Mo+0.5Nb+1.5Si</i>
<i class="n s" style="--x:957;--y:973">vale per raffreddamento rapido ed è stato messo appunto per i cordoni di saldatura</i>
<i class="n" style="--x:927;--y:981">PREN (Pitting Resistance Equivalent Number)=Cr+3.3Mo</i>
<i class="n" style="--x:1040;--y:981">definisce la resistenza al pitting ed è il più comune sui materiali resistenti alla corrosione</i>
</body></html>
